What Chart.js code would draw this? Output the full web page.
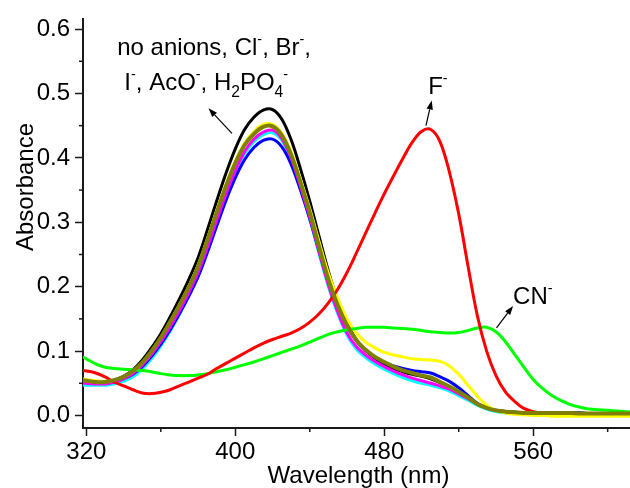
<!DOCTYPE html>
<html>
<head>
<meta charset="utf-8">
<script src="https://cdn.jsdelivr.net/npm/chart.js@4.4.1/dist/chart.umd.min.js"></script>
<style>
  html, body { margin: 0; padding: 0; background: #fff; }
  #wrap { width: 630px; height: 488px; }
</style>
</head>
<body>
<div id="wrap"><canvas id="chart"></canvas></div>
<script>
// ===================== DATA =====================
const wavelengths = [315,320,325,330,335,340,345,350,355,360,365,370,375,380,385,390,395,400,405,410,
  415,420,425,430,435,440,445,450,455,460,465,470,475,480,485,490,495,500,505,510,
  515,520,525,530,535,540,545,550,555,560,565,570,575,580,585,590,595,600,605,610,615];

// black
const noAnions = [.054,.053,.051,.051,.055,.061,.071,.086,.105,.127,.153,.181,.211,.245,.288,.333,.376,.414,.444,.463,
  .474,.475,.460,.428,.383,.333,.278,.224,.178,.143,.118,.101,.089,.080,.073,.068,.064,.061,.057,.051,
  .044,.035,.026,.017,.011,.008,.006,.005,.004,.004,.004,.004,.004,.004,.004,.003,.003,.003,.003,.003,.003];
// blue
const chloride = [.052,.051,.050,.050,.052,.057,.064,.076,.092,.111,.133,.158,.185,.215,.253,.294,.334,.369,.397,.416,
  .427,.429,.417,.390,.350,.305,.255,.206,.168,.138,.116,.101,.090,.082,.077,.073,.070,.068,.066,.060,
  .053,.043,.031,.019,.012,.008,.006,.005,.004,.004,.004,.004,.004,.004,.004,.003,.003,.003,.003,.003,.003];
// magenta
const bromide = [.052,.050,.049,.049,.052,.057,.065,.078,.095,.115,.138,.163,.191,.222,.261,.303,.344,.380,.410,.429,
  .440,.443,.430,.400,.356,.308,.255,.203,.161,.128,.107,.094,.084,.076,.069,.063,.058,.054,.050,.046,
  .041,.034,.026,.018,.012,.008,.006,.005,.004,.004,.004,.004,.004,.004,.003,.003,.003,.003,.003,.003,.003];
// cyan
const iodide = [.047,.047,.047,.047,.049,.053,.060,.072,.088,.108,.131,.157,.186,.218,.257,.299,.340,.376,.406,.425,
  .436,.439,.427,.397,.353,.305,.251,.200,.158,.125,.103,.090,.080,.072,.065,.059,.054,.050,.047,.043,
  .038,.031,.024,.016,.010,.006,.004,.003,.002,.002,.002,.002,.002,.002,.002,.002,.002,.002,.002,.002,.002];
// yellow
const acetate = [.058,.056,.054,.053,.055,.060,.069,.082,.100,.121,.146,.172,.200,.233,.274,.318,.359,.395,.423,.441,
  .452,.452,.438,.409,.367,.321,.270,.221,.182,.150,.128,.114,.105,.098,.094,.091,.088,.087,.086,.084,
  .077,.064,.047,.030,.016,.008,.004,.002,.001,.000,.000,-.001,-.001,-.001,-.001,-.001,-.001,-.001,-.001,-.001,-.001];
// olive
const phosphate = [.056,.054,.052,.052,.055,.060,.069,.082,.100,.121,.145,.171,.199,.231,.272,.315,.356,.392,.420,.437,
  .448,.449,.435,.405,.362,.315,.262,.211,.171,.140,.117,.102,.091,.083,.076,.070,.066,.062,.059,.052,
  .045,.037,.028,.018,.012,.008,.006,.005,.004,.004,.004,.004,.004,.004,.003,.003,.003,.003,.003,.003,.003];
// red
const fluoride = [.071,.069,.066,.060,.052,.046,.040,.035,.034,.036,.040,.046,.052,.058,.064,.073,.081,.089,.097,.105,
  .112,.118,.123,.128,.135,.145,.158,.175,.196,.222,.252,.283,.314,.344,.372,.399,.424,.441,.444,.425,
  .378,.313,.232,.155,.100,.062,.037,.022,.011,.006,.004,.004,.003,.003,.003,.003,.003,.003,.003,.003,.003];
// green
const cyanide = [.095,.088,.080,.075,.073,.072,.071,.070,.068,.065,.063,.062,.062,.063,.065,.068,.071,.075,.079,.083,
  .088,.093,.098,.103,.108,.114,.120,.126,.130,.133,.135,.137,.137,.137,.136,.135,.134,.132,.130,.129,
  .128,.129,.132,.136,.137,.130,.115,.095,.075,.056,.042,.031,.023,.017,.013,.010,.009,.008,.007,.006,.005];

const xMajorTicks = [320, 400, 480, 560];
const xMinorTicks = [360, 440, 520, 600];
const yMajorTicks = [0, 0.1, 0.2, 0.3, 0.4, 0.5, 0.6];
const yMinorTicks = [0.05, 0.15, 0.25, 0.35, 0.45, 0.55];

const FONT = '"Liberation Sans", Arial, sans-serif';

// ── helpers ───────────────────────────────
function pts(arr) { return wavelengths.map((w, i) => ({ x: w, y: arr[i] })); }

function series(data, color, width, order) {
  return {
    data: pts(data), borderColor: color, borderWidth: width, order,
    pointRadius: 0, tension: 0.35, fill: false
  };
}

function drawRuns(ctx, x, y, runs, size) {
  runs.forEach(r => {
    let fs = size, dy = 0;
    if (r.sup) { fs = size * 0.6; dy = -size * 0.45; }
    if (r.sub) { fs = size * 0.65; dy = size * 0.28; }
    ctx.font = fs + 'px ' + FONT;
    ctx.fillText(r.t, x, y + dy);
    x += ctx.measureText(r.t).width;
  });
}

function arrow(ctx, x1, y1, x2, y2) {
  const a = Math.atan2(y2 - y1, x2 - x1), L = 9, W = 3.2;
  ctx.beginPath();
  ctx.moveTo(x1, y1);
  ctx.lineTo(x2 - L * Math.cos(a), y2 - L * Math.sin(a));
  ctx.lineWidth = 1.2; ctx.strokeStyle = '#000'; ctx.stroke();
  ctx.beginPath();
  ctx.moveTo(x2, y2);
  ctx.lineTo(x2 - L * Math.cos(a) + W * Math.sin(a), y2 - L * Math.sin(a) - W * Math.cos(a));
  ctx.lineTo(x2 - L * Math.cos(a) - W * Math.sin(a), y2 - L * Math.sin(a) + W * Math.cos(a));
  ctx.closePath(); ctx.fillStyle = '#000'; ctx.fill();
}

// minor ticks, axis titles, annotations
const extras = {
  id: 'extras',
  afterDraw(chart) {
    const ctx = chart.ctx, xs = chart.scales.x, ys = chart.scales.y;
    const X = v => xs.getPixelForValue(v), Y = v => ys.getPixelForValue(v);
    ctx.save();
    ctx.strokeStyle = '#1a1a1a'; ctx.lineWidth = 1.5;
    xMinorTicks.forEach(v => {
      ctx.beginPath(); ctx.moveTo(X(v), xs.top); ctx.lineTo(X(v), xs.top + 4); ctx.stroke();
    });
    yMinorTicks.forEach(v => {
      ctx.beginPath(); ctx.moveTo(ys.right, Y(v)); ctx.lineTo(ys.right - 4, Y(v)); ctx.stroke();
    });

    ctx.fillStyle = '#000';
    ctx.textBaseline = 'alphabetic';
    // axis titles
    ctx.font = '24px ' + FONT;
    ctx.textAlign = 'center';
    ctx.fillText('Wavelength (nm)', (xs.left + xs.right) / 2 + 2, 483);
    ctx.save();
    ctx.translate(33, 187);
    ctx.rotate(-Math.PI / 2);
    ctx.fillText('Absorbance', 0, 0);
    ctx.restore();

    // annotations
    ctx.textAlign = 'left';
    drawRuns(ctx, X(336.6), Y(0.560), [
      { t: 'no anions, Cl' }, { t: '-', sup: true }, { t: ', Br' }, { t: '-', sup: true }, { t: ',' }
    ], 24);
    drawRuns(ctx, X(340.4), Y(0.505), [
      { t: 'I' }, { t: '-', sup: true }, { t: ', AcO' }, { t: '-', sup: true }, { t: ', H' },
      { t: '2', sub: true }, { t: 'PO' }, { t: '4', sub: true }, { t: '-', sup: true }
    ], 24);
    drawRuns(ctx, X(503.6), Y(0.499), [{ t: 'F' }, { t: '-', sup: true }], 24);
    drawRuns(ctx, X(549.2), Y(0.173), [{ t: 'CN' }, { t: '-', sup: true }], 24);

    arrow(ctx, X(398.2), Y(0.438), X(385.6), Y(0.477));
    arrow(ctx, X(502.4), Y(0.450), X(505.5), Y(0.489));
    arrow(ctx, X(540.3), Y(0.136), X(549.2), Y(0.170));
    ctx.restore();
  }
};

new Chart(document.getElementById('chart'), {
  type: 'line',
  data: {
    datasets: [
      series(phosphate, '#808000', 4, 0),
      series(fluoride,  '#ff0000', 3, 1),
      series(cyanide,   '#00ff00', 3, 2),
      series(acetate,   '#ffff00', 3, 3),
      series(bromide,   '#ff00ff', 3, 4),
      series(chloride,  '#0000ff', 3, 5),
      series(iodide,    '#00ffff', 3, 6),
      series(noAnions,  '#000000', 3, 7)
    ]
  },
  options: {
    responsive: true,
    maintainAspectRatio: false,
    animation: false,
    layout: { padding: { top: 16, right: 0, left: 0, bottom: 0 } },
    plugins: { legend: { display: false }, tooltip: { enabled: false } },
    scales: {
      x: {
        type: 'linear', min: 318.2, max: 612,
        afterBuildTicks: s => { s.ticks = xMajorTicks.map(v => ({ value: v })); },
        afterFit: s => { s.height = 60; },
        border: { display: true, color: '#1a1a1a', width: 2 },
        grid: { drawOnChartArea: false, drawTicks: true, tickLength: 8, tickColor: '#1a1a1a', tickWidth: 1.5 },
        ticks: { color: '#000', padding: 2, maxRotation: 0, font: { family: FONT, size: 24 }, callback: v => v }
      },
      y: {
        type: 'linear', min: -0.0194, max: 0.615,
        afterBuildTicks: s => { s.ticks = yMajorTicks.map(v => ({ value: v })); },
        afterFit: s => { s.width = 83; },
        border: { display: true, color: '#1a1a1a', width: 2 },
        grid: { drawOnChartArea: false, drawTicks: true, tickLength: 8, tickColor: '#1a1a1a', tickWidth: 1.5 },
        ticks: { color: '#000', padding: 5, font: { family: FONT, size: 24 }, callback: v => v.toFixed(1) }
      }
    }
  },
  plugins: [extras]
});
</script>
</body>
</html>
